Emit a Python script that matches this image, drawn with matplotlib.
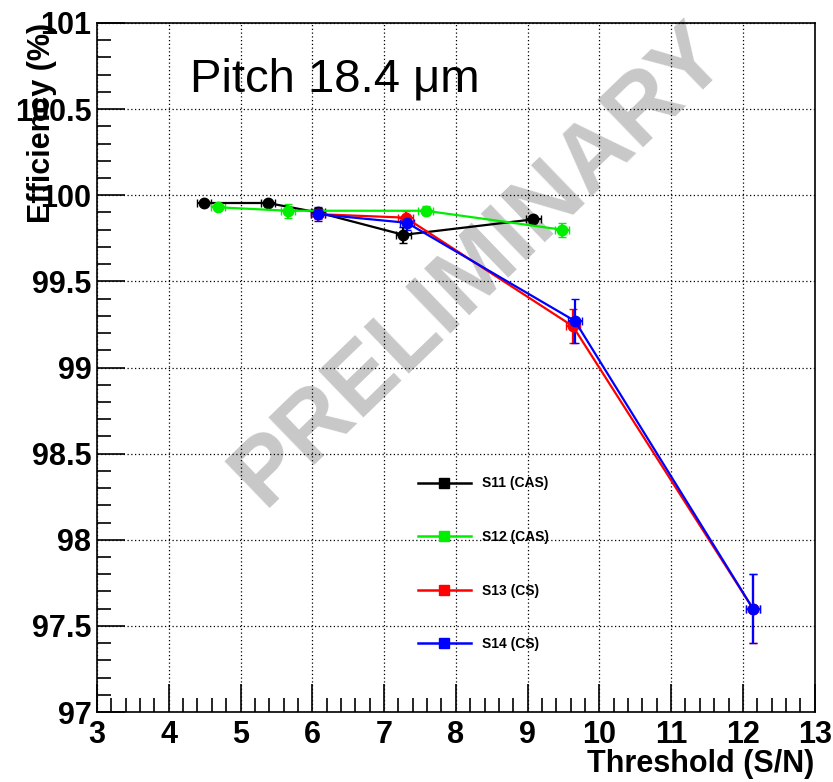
import matplotlib.pyplot as plt
from matplotlib.lines import Line2D
from matplotlib.ticker import MultipleLocator

plt.rcParams['font.family'] = ['Liberation Sans', 'DejaVu Sans']

# data
s11_x = [4.49, 5.38, 6.08, 7.27, 9.08]
s11_y = [99.955, 99.955, 99.90, 99.77, 99.86]
s11_ey = [0.01, 0.01, 0.02, 0.045, 0.02]

s12_x = [4.69, 5.66, 7.58, 9.48]
s12_y = [99.93, 99.91, 99.91, 99.80]
s12_ey = [0.01, 0.04, 0.025, 0.04]

s13_x = [6.08, 7.30, 9.63, 12.14]
s13_y = [99.89, 99.87, 99.24, 97.60]
s13_ey = [0.03, 0.04, 0.10, 0.20]

s14_x = [6.08, 7.32, 9.66, 12.14]
s14_y = [99.89, 99.84, 99.27, 97.60]
s14_ey = [0.04, 0.04, 0.13, 0.20]

ex = 0.1
series = [
    ('S11 (CAS)', s11_x, s11_y, s11_ey, 'black'),
    ('S12 (CAS)', s12_x, s12_y, s12_ey, '#00ee00'),
    ('S13 (CS)', s13_x, s13_y, s13_ey, 'red'),
    ('S14 (CS)', s14_x, s14_y, s14_ey, 'blue'),
]

fig = plt.figure(figsize=(8.33, 7.82), dpi=100)
ax = fig.add_axes([0.1164, 0.0895, 0.8616, 0.8811])

for name, x, y, ey, c in series:
    ax.errorbar(x, y, yerr=ey, xerr=ex, color=c, marker='o', markersize=7.5,
                lw=1.6, elinewidth=1.6, capsize=3)

ax.set_xlim(3, 13)
ax.set_ylim(97, 101)
ax.xaxis.set_major_locator(MultipleLocator(1))
ax.xaxis.set_minor_locator(MultipleLocator(0.2))
ax.yaxis.set_major_locator(MultipleLocator(0.5))
ax.yaxis.set_minor_locator(MultipleLocator(0.1))
ax.tick_params(which='both', direction='in', top=False, right=False,
               labelsize=22, width=1.2)
ax.tick_params(which='major', length=20)
ax.tick_params(which='minor', length=10)
ax.yaxis.set_major_formatter(plt.FuncFormatter(lambda v, p: ('%g' % v)))
for lab in ax.get_xticklabels() + ax.get_yticklabels():
    lab.set_fontweight('bold')
ax.tick_params(axis='x', pad=6)
ax.tick_params(axis='y', pad=4)
ax.grid(True, which='major', linestyle=(0, (1, 2)), color='black', lw=0.9)
for s in ax.spines.values():
    s.set_linewidth(1.2)

fig.text(0.978, 0.004, 'Threshold (S/N)', fontsize=22, fontweight='bold',
         ha='right', va='bottom')
ax.set_ylabel('Efficiency (%)', fontsize=22, fontweight='bold', loc='top')
ax.yaxis.set_label_coords(-0.056, 1.0)

ax.text(4.3, 100.67, 'Pitch 18.4 \u03bcm', fontsize=34, va='center')
ax.text(0.533, 0.649, 'PRELIMINARY', transform=ax.transAxes, fontsize=68,
        fontweight='bold', color='#c8c8c8', rotation=44, ha='center',
        va='center', zorder=0)

handles = [Line2D([], [], color=c, marker='s', markersize=7, lw=1.8)
           for _, _, _, _, c in series]
leg = ax.legend(handles, [s[0] for s in series], loc='upper left',
                bbox_to_anchor=(0.43, 0.36), frameon=False, labelspacing=2.85,
                handlelength=3.8, prop={'weight': 'bold', 'size': 10})

fig.savefig('out.png', dpi=100)
